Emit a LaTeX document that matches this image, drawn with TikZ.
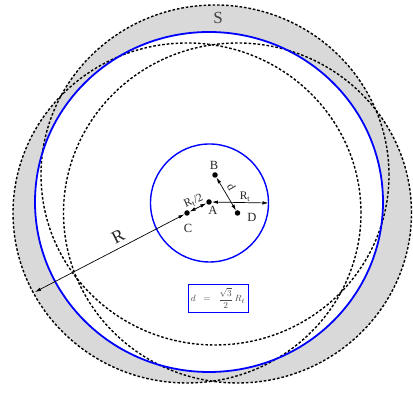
\documentclass[tikz,border=0pt]{standalone}
\usepackage{fontspec}
\setmainfont{Liberation Serif}
\usetikzlibrary{arrows.meta}
\begin{document}
\begin{tikzpicture}[x=1pt,y=1pt,
  dcirc/.style={draw=black, line width=1.4pt, dash pattern=on 2.6pt off 1.9pt},
  bcirc/.style={draw=blue, line width=1.8pt},
  dimarrow/.style={{Latex[length=6pt,width=3.5pt]}-{Latex[length=6pt,width=3.5pt]}, line width=0.7pt},
  dot/.style={circle, fill=black, inner sep=0pt, minimum size=5.5pt},
  lbl/.style={font=\fontsize{12.5}{12.5}\selectfont, text=black!85, inner sep=1pt}]
\useasboundingbox (0,0) rectangle (413,395);
% centres
\coordinate (cA) at (209,193);
\coordinate (cB) at (215,220);
\coordinate (cC) at (187,182);
\coordinate (cD) at (237.5,182);
\coordinate (cS) at (209.5,192);
% shaded region S
\fill[gray!30] (cB) ellipse[x radius=174, y radius=170];
\fill[gray!30] (cC) ellipse[x radius=174, y radius=170];
\fill[gray!30] (cD) ellipse[x radius=174, y radius=170];
\fill[white] (cA) ellipse[x radius=174, y radius=170];
% dashed circles
\draw[dcirc] (cB) ellipse[x radius=174, y radius=170];
\draw[dcirc] (cC) ellipse[x radius=174, y radius=170];
\draw[dcirc] (cD) ellipse[x radius=174, y radius=170];
% blue circles
\draw[bcirc] (cA) ellipse[x radius=174, y radius=170];
\draw[blue, line width=1.4pt] (cS) circle[radius=59];
% points
\node[dot] (dA) at (cA) {};
\node[dot] (dB) at (cB) {};
\node[dot] (dC) at (cC) {};
\node[dot] (dD) at (cD) {};
\coordinate (rEnd) at (35,103);
\coordinate (rtEnd) at (268.5,192);
% dimension arrows
\draw[dimarrow] (dC) -- (rEnd);
\draw[dimarrow] (dC) -- (dA);
\draw[dimarrow] (dA) -- (rtEnd);
\draw[dimarrow] (dB) -- (dD);
% labels
\node[lbl, font=\fontsize{17}{17}\selectfont, text=black!75] (lS) at (218,377.5) {S};
\node[lbl] (lB) at (214,230) {B};
\node[lbl] (lA) at (213,184.5) {A};
\node[lbl] (lC) at (188,167) {C};
\node[lbl] (lD) at (252,177.5) {D};
\node[lbl, font=\fontsize{11.5}{11.5}\selectfont] (lRt) at (245,198.5) {R\textsubscript{t}};
\node[lbl, font=\fontsize{11.5}{11.5}\selectfont, rotate=-60] (ld) at (231.5,208) {d};
\node[lbl, font=\fontsize{11.5}{11.5}\selectfont, rotate=24, inner sep=0pt] (lRt2) at (193.5,194) {R\textsubscript{t}/2};
\node[lbl, font=\fontsize{18}{18}\selectfont, rotate=27] (lR) at (118,158) {R};
% formula
\node[draw=blue, line width=0.9pt, minimum width=60, minimum height=28, inner sep=1pt,
      font=\fontsize{9.5}{10}\selectfont, text=black!70] (formula) at (218,97)
  {$d\;\;=\;\;\displaystyle\frac{\sqrt{3}}{2}\,R_{t}$};
\end{tikzpicture}
\end{document}
